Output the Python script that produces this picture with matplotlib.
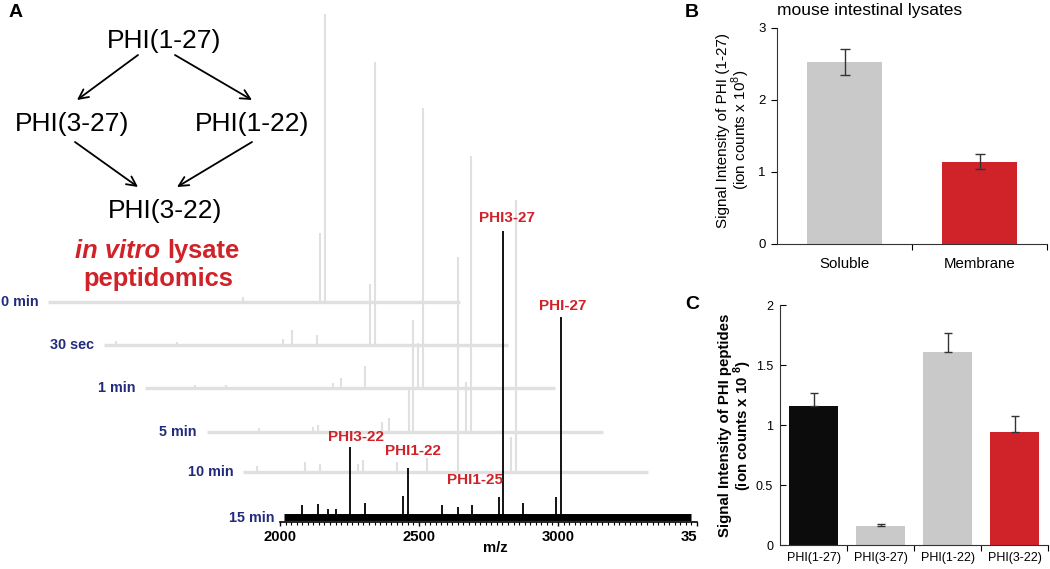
import matplotlib
matplotlib.use("Agg")
import matplotlib.pyplot as plt
from matplotlib.ticker import FixedLocator, NullFormatter
from matplotlib.transforms import Bbox

plt.rcParams['font.family'] = ['Liberation Sans', 'DejaVu Sans']
plt.rcParams['mathtext.fontset'] = 'custom'
plt.rcParams['mathtext.rm'] = 'Liberation Sans'
plt.rcParams['mathtext.bf'] = 'Liberation Sans:bold'

RED = '#cf2229'
NAVY = '#232b7c'
LIGHT = '#e0e0e0'
BARGRAY = '#c9c9c9'

# ---- panel A: stacked MALDI spectra (m/z, relative intensity)
trace_labels = ['0 min', '30 sec', '1 min', '5 min', '10 min', '15 min']
trace_start = [2015, 2035, 2010, 2060, 2030, 2015]
trace_end = [3495, 3490, 3485, 3485, 3485, 3480]

peaks_0min_mz = [2716, 2993, 3011]
peaks_0min_int = [5, 69, 288]
peaks_30s_mz = [2080, 2300, 2680, 2712, 2803, 2993, 3011]
peaks_30s_int = [4, 3, 6, 15, 10, 61, 283]
peaks_1min_mz = [2190, 2300, 2687, 2716, 2803, 2993, 3011]
peaks_1min_int = [3, 3, 5, 10, 22, 45, 280]
peaks_5min_mz = [2250, 2441, 2459, 2690, 2716, 2788, 2803, 2993, 3011]
peaks_5min_int = [4, 5, 7, 10, 14, 45, 112, 50, 276]
peaks_10min_mz = [2079, 2252, 2305, 2441, 2459, 2582, 2690, 2803, 2993, 3011]
peaks_10min_int = [6, 10, 8, 8, 12, 10, 14, 215, 35, 272]
peaks_15min_mz = [2079, 2137, 2172, 2201, 2252, 2305, 2441, 2459, 2582,
                  2640, 2690, 2788, 2803, 2873, 2993, 3011]
peaks_15min_int = [12, 13, 8, 8, 70, 14, 21, 49, 12, 10, 12, 20, 286, 14, 20, 200]

trace_peaks_mz = [peaks_0min_mz, peaks_30s_mz, peaks_1min_mz,
                  peaks_5min_mz, peaks_10min_mz, peaks_15min_mz]
trace_peaks_int = [peaks_0min_int, peaks_30s_int, peaks_1min_int,
                   peaks_5min_int, peaks_10min_int, peaks_15min_int]

peak_names = ['PHI3-22', 'PHI1-22', 'PHI1-25', 'PHI3-27', 'PHI-27']
peak_name_mz = [2252, 2459, 2788, 2803, 3011]
peak_name_int = [70, 49, 20, 286, 200]
mz_ticks = [2000, 2500, 3000, 3500]
mz_minor = list(range(2000, 3501, 20))

# ---- panel B
b_cats = ['Soluble', 'Membrane']
b_vals = [2.53, 1.14]
b_errs = [0.185, 0.105]

# ---- panel C
c_cats = ['PHI(1-27)', 'PHI(3-27)', 'PHI(1-22)', 'PHI(3-22)']
c_vals = [1.16, 0.16, 1.61, 0.94]
c_errs = [0.11, 0.015, 0.16, 0.135]
c_colors = ['#0c0c0c', BARGRAY, BARGRAY, RED]

# waterfall layout: shift of each trace (m/z, intensity)
shift_mz = [-849, -669, -496, -324, -162, 0]
shift_int = [215, 172, 129, 85, 45, 0]

W, H = 1050, 569
fig = plt.figure(figsize=(10.5, 5.69), dpi=100)

# spectra axes: m/z 3500 at x=697px, baseline axis at y=522px
axA = fig.add_axes([0, (H - 522) / H, 697 / W, 522 / H])
axA.set_facecolor('none')
axA.set_xlim(2000 - 280 * 500 / 139, 3500)
axA.set_ylim(-5, 517)
for k in range(len(trace_labels)):
    dx, dy = shift_mz[k], shift_int[k]
    last = k == len(trace_labels) - 1
    col = 'black' if last else LIGHT
    axA.plot([trace_start[k] + dx, trace_end[k] + dx], [dy, dy],
             color=col, lw=5 if last else 2.4, solid_capstyle='butt',
             zorder=2 + k)
    xs = [m + dx for m in trace_peaks_mz[k]]
    tops = [dy + v for v in trace_peaks_int[k]]
    axA.vlines(xs, dy, tops, color=col, lw=1.3 if last else 1.5, zorder=2 + k)
    axA.annotate(trace_labels[k], xy=(trace_start[k] + dx, dy),
                 xytext=(-7, -1 if last else 0), textcoords='offset points',
                 ha='right', va='center', color=NAVY, fontsize=10.4,
                 fontweight='bold')

for name, m, v in zip(peak_names, peak_name_mz, peak_name_int):
    off = {'PHI3-22': (4, 7), 'PHI1-22': (4, 12), 'PHI1-25': (-17, 12),
           'PHI3-27': (3, 9), 'PHI-27': (1, 8)}[name]
    axA.annotate(name, xy=(m, v), xytext=off, textcoords='offset points',
                 ha='center', va='center', color=RED, fontsize=11,
                 fontweight='bold', zorder=20)

for s in ['top', 'right', 'left']:
    axA.spines[s].set_visible(False)
axA.spines['bottom'].set_bounds(2000, 3500)
axA.spines['bottom'].set_linewidth(1.2)
axA.set_yticks([])
axA.set_xticks(mz_ticks)
axA.xaxis.set_minor_locator(FixedLocator(mz_minor))
axA.tick_params(axis='x', which='major', length=3, width=1, pad=3,
                labelsize=10.7)
axA.tick_params(axis='x', which='minor', length=2, width=0.8)
clip = Bbox([[0, 0], [697, H]])
for lab in axA.get_xticklabels():
    lab.set_fontweight('bold')
    lab.set_clip_on(True)
    lab.set_clip_box(clip)
axA.set_xlabel('m/z', fontsize=10.7, fontweight='bold')
axA.xaxis.set_label_coords(495 / 697, -(541 - 522) / 522)

# overlay for the pathway diagram and panel letters (pixel coords)
ov = fig.add_axes([0, 0, 1, 1], zorder=10)
ov.set_xlim(0, W)
ov.set_ylim(H, 0)
ov.axis('off')
for txt, x, y in [('PHI(1-27)', 164, 41), ('PHI(3-27)', 72, 124),
                  ('PHI(1-22)', 252, 124), ('PHI(3-22)', 165, 211)]:
    ov.text(x, y, txt, ha='center', va='center', fontsize=19)
for (x0, y0), (x1, y1) in [((138, 55), (77, 100)), ((175, 55), (252, 100)),
                           ((75, 142), (138, 187)), ((252, 142), (177, 187))]:
    ov.annotate('', xy=(x1, y1), xytext=(x0, y0),
                arrowprops=dict(arrowstyle='->', color='black', lw=1.3,
                                mutation_scale=17, shrinkA=0, shrinkB=0))
ov.text(160, 251, 'in vitro', ha='right', va='center', fontsize=18.4,
        fontweight='bold', fontstyle='italic', color=RED)
ov.text(167, 251, 'lysate', ha='left', va='center', fontsize=18.4,
        fontweight='bold', color=RED)
ov.text(158, 279, 'peptidomics', ha='center', va='center', fontsize=18.4,
        fontweight='bold', color=RED)
for letter, x, y in [('A', 16, 12), ('B', 692, 12), ('C', 692, 304)]:
    ov.text(x, y, letter, ha='center', va='center', fontsize=14,
            fontweight='bold')

# ---- panel B
axB = fig.add_axes([777 / W, (H - 244) / H, 270 / W, 216 / H])
axB.bar(range(len(b_cats)), b_vals, width=0.556, color=[BARGRAY, RED],
        yerr=b_errs, capsize=3.6,
        error_kw=dict(ecolor='#333333', elinewidth=1, capthick=1))
axB.set_xlim(-0.5, len(b_cats) - 0.5)
axB.set_ylim(0, 3)
axB.set_yticks([0, 1, 2, 3])
axB.xaxis.set_major_locator(FixedLocator([0.5, 1.5]))
axB.xaxis.set_major_formatter(NullFormatter())
axB.xaxis.set_minor_locator(FixedLocator([0, 1]))
axB.set_xticklabels(b_cats, minor=True)
axB.tick_params(axis='x', which='minor', length=0, pad=9, labelsize=10.8)
axB.tick_params(axis='x', which='major', length=4, direction='out')
axB.tick_params(axis='y', length=4, direction='out', labelsize=9.5, pad=4)
for s in ['top', 'right']:
    axB.spines[s].set_visible(False)
for s in ['left', 'bottom']:
    axB.spines[s].set_color('#333333')
axB.set_title('mouse intestinal lysates', loc='left', fontsize=12.5, pad=9)
axB.set_ylabel('Signal Intensity of PHI (1-27)\n(ion counts x 10$^8$)',
               fontsize=11, va='center', linespacing=1.0)
axB.yaxis.set_label_coords((734 - 777) / 270, (244 - 130) / 216)

# ---- panel C
axC = fig.add_axes([780 / W, (H - 545) / H, 268 / W, 240 / H])
axC.bar(range(len(c_cats)), c_vals, width=0.72, color=c_colors,
        yerr=[[0] * len(c_errs), c_errs], capsize=2.9,
        error_kw=dict(ecolor='#333333', elinewidth=1, capthick=1))
axC.set_xlim(-0.5, len(c_cats) - 0.5)
axC.set_ylim(0, 2)
axC.set_yticks([0, 0.5, 1, 1.5, 2])
axC.set_yticklabels(['0', '0.5', '1', '1.5', '2'])
axC.xaxis.set_major_locator(FixedLocator([0.5, 1.5, 2.5, 3.5]))
axC.xaxis.set_major_formatter(NullFormatter())
axC.xaxis.set_minor_locator(FixedLocator(range(len(c_cats))))
axC.set_xticklabels(c_cats, minor=True)
axC.tick_params(axis='x', which='minor', length=0, pad=5, labelsize=9)
axC.tick_params(axis='x', which='major', length=4, direction='out')
axC.tick_params(axis='y', length=4, direction='in', labelsize=9, pad=5)
for s in ['top', 'right']:
    axC.spines[s].set_visible(False)
for s in ['left', 'bottom']:
    axC.spines[s].set_color('#333333')
axC.set_ylabel('Signal Intensity of PHI peptides\n(ion counts x 10 $^{\\mathbf{8}}$)',
               fontsize=10.8, fontweight='bold', va='center', linespacing=1.0)
axC.yaxis.set_label_coords((736 - 780) / 268, (545 - 425) / 240)

fig.savefig('out.png', dpi=100)
